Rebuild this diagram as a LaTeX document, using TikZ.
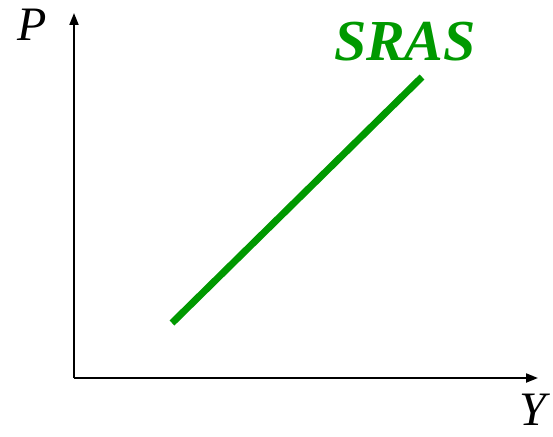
\documentclass[tikz,border=0pt]{standalone}
\usepackage{fontspec}
\setmainfont{Liberation Serif}
\usetikzlibrary{arrows.meta}
\definecolor{srasgreen}{RGB}{0,153,0}
\tikzset{
    axis/.style={line width=2pt, -{Triangle[length=12pt,width=9pt]}},
    axislabel/.style={font=\fontsize{48}{48}\selectfont\itshape, inner sep=0pt},
    curve/.style={srasgreen, line width=7pt},
    curvelabel/.style={text=srasgreen, font=\fontsize{58}{58}\selectfont\bfseries\itshape, inner sep=0pt}
}
\begin{document}
\begin{tikzpicture}[x=1pt, y=-1pt]
    \useasboundingbox (0,0) rectangle (553,436);

    % Axes
    \coordinate (origin) at (74,378);
    \coordinate (ytop) at (74,13);
    \coordinate (xend) at (538,378);
    \draw[axis] (origin) -- (ytop);
    \draw[axis] (origin) -- (xend);
    \node[axislabel] (plabel) at (32,25) {P};
    \node[axislabel] (ylabel) at (533,410) {Y};

    % Short-run aggregate supply
    \coordinate (srasLo) at (172,323);
    \coordinate (srasHi) at (422,77);
    \draw[curve] (srasLo) -- (srasHi);
    \node[curvelabel] (sras) at (405,42) {SRAS};
\end{tikzpicture}
\end{document}
